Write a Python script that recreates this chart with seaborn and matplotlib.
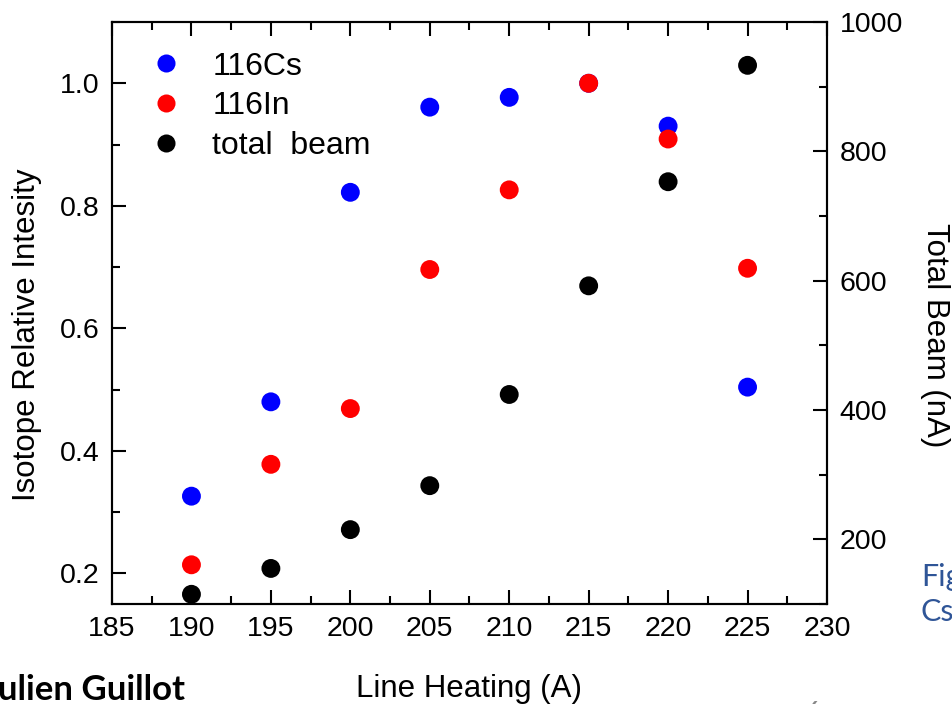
import numpy as np
import pandas as pd
import matplotlib.pyplot as plt
import seaborn as sns
from matplotlib.ticker import MultipleLocator
from matplotlib.lines import Line2D

# data
line_heating = [190, 195, 200, 205, 210, 215, 220, 225]
cs116 = [0.326, 0.480, 0.822, 0.961, 0.977, 1.000, 0.930, 0.504]
in116 = [0.214, 0.378, 0.469, 0.696, 0.826, 1.000, 0.909, 0.698]
total_beam = [115, 155, 215, 283, 424, 592, 753, 933]

series_names = ["116Cs", "116In", "total  beam"]
series_colors = ["#0000ff", "#ff0000", "#000000"]

sns.set_style("ticks")
plt.rcParams['font.family'] = ['Liberation Sans', 'DejaVu Sans']
plt.rcParams.update({
    "text.color": "black", "axes.labelcolor": "black", "axes.edgecolor": "black",
    "xtick.color": "black", "ytick.color": "black",
})

iso = pd.DataFrame({
    "current": line_heating * 2,
    "intensity": cs116 + in116,
    "isotope": [series_names[0]] * len(cs116) + [series_names[1]] * len(in116),
})
beam = pd.DataFrame({"current": line_heating, "beam": total_beam})

fig = plt.figure(figsize=(9.52, 7.04), dpi=100)
ax = fig.add_axes([112 / 952, 1 - 604 / 704, (827 - 112) / 952, (604 - 22) / 704])
ax2 = ax.twinx()

sns.scatterplot(data=iso, x="current", y="intensity", hue="isotope",
                palette=series_colors[:2], s=185, edgecolor="none",
                legend=False, ax=ax, zorder=3)
sns.scatterplot(data=beam, x="current", y="beam", color=series_colors[2],
                s=185, edgecolor="none", legend=False, ax=ax2, zorder=3)

ax.set_xlim(185, 230)
ax.set_ylim(0.15, 1.10)
ax2.set_ylim(100, 1000)

ax.xaxis.set_major_locator(MultipleLocator(5))
ax.xaxis.set_minor_locator(MultipleLocator(2.5))
ax.yaxis.set_major_locator(MultipleLocator(0.2))
ax.yaxis.set_minor_locator(MultipleLocator(0.1))
ax2.yaxis.set_major_locator(MultipleLocator(200))
ax2.yaxis.set_minor_locator(MultipleLocator(100))
ax.yaxis.set_major_formatter(plt.FormatStrFormatter("%.1f"))

ax.tick_params(axis="x", which="both", direction="in", top=True, bottom=True)
ax.tick_params(axis="y", which="both", direction="in", left=True, right=False)
ax.tick_params(which="major", length=10, width=1.5, labelsize=20.5, pad=9)
ax.tick_params(which="minor", length=6, width=1.5)
ax2.tick_params(which="major", direction="in", length=10, width=1.5, labelsize=20.5, pad=9)
ax2.tick_params(which="minor", direction="in", length=6, width=1.5)

for a in (ax, ax2):
    for sp in a.spines.values():
        sp.set_linewidth(1.5)
        sp.set_visible(True)

ax.set_xlabel("Line Heating (A)", fontsize=22.5)
ax.set_ylabel("Isotope Relative Intesity", fontsize=22.5)
ax2.set_ylabel("Total Beam (nA)", fontsize=22.5, rotation=-90)
ax.xaxis.set_label_coords(0.5, -0.12)
ax.yaxis.set_label_coords(-0.098, 0.462)
ax2.yaxis.set_label_coords(1.172, 0.462)

handles = [Line2D([], [], marker="o", linestyle="none", markersize=13,
                  markerfacecolor=c, markeredgecolor="none") for c in series_colors]
ax.legend(handles, series_names, loc="upper left", bbox_to_anchor=(0.013, 0.971),
          frameon=False, fontsize=23, handletextpad=0.45, labelspacing=0.3,
          borderaxespad=0)

# slide leftovers around the chart
fig.text(185 / 952, 1 - 690 / 704, "Julien Guillot", ha="right", va="center",
         fontsize=25, fontweight="bold", family=["Lato", "DejaVu Sans"])
fig.text(921 / 952, 1 - 577 / 704, "Fig", ha="left", va="center",
         fontsize=22, color="#2f5597", family=["Lato", "DejaVu Sans"])
fig.text(921 / 952, 1 - 612 / 704, "Cs", ha="left", va="center",
         fontsize=22, color="#2f5597", family=["Lato", "DejaVu Sans"])
fig.text(813 / 952, 1 - 714 / 704, "6", ha="center", va="center",
         fontsize=20, color="#888888", family=["Lato", "DejaVu Sans"])

fig.savefig("out.png", dpi=100)
